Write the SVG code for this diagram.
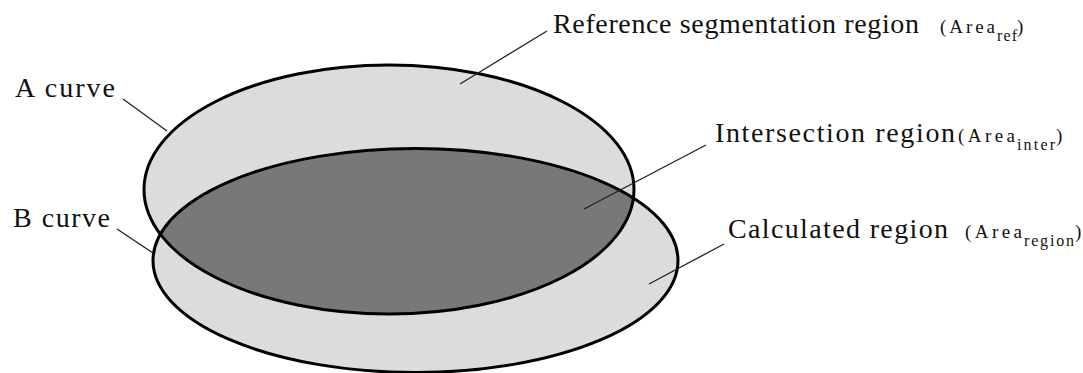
<svg xmlns="http://www.w3.org/2000/svg" width="1083" height="373" viewBox="0 0 1083 373">
<style>
.lbl{font-family:"Liberation Serif","Times New Roman",serif;font-size:28px;fill:#111}
.ar{font-family:"Liberation Serif","Times New Roman",serif;font-size:19px;fill:#111}
.sub{font-family:"Liberation Serif","Times New Roman",serif;font-size:16px;fill:#111}
.edge{fill:none;stroke:#000;stroke-width:3}
.lead{fill:none;stroke:#222;stroke-width:1.3}
</style>
<defs>
<clipPath id="clipA"><ellipse cx="389" cy="189.5" rx="245" ry="124.5"/></clipPath>
</defs>
<rect width="1083" height="373" fill="#fff"/>
<g id="regionA"><ellipse cx="389" cy="189.5" rx="245" ry="124.5" fill="#dcdcdc"/></g>
<g id="regionB"><ellipse cx="415.5" cy="260.5" rx="262.5" ry="112" fill="#dcdcdc"/></g>
<g id="intersection"><ellipse cx="415.5" cy="260.5" rx="262.5" ry="112" fill="#787878" clip-path="url(#clipA)"/></g>
<g id="curveA"><ellipse class="edge" cx="389" cy="189.5" rx="245" ry="124.5"/></g>
<g id="curveB"><ellipse class="edge" cx="415.5" cy="260.5" rx="262.5" ry="112"/></g>
<g id="connectors">
<line class="lead" x1="123" y1="99" x2="167" y2="131"/>
<line class="lead" x1="117" y1="229" x2="153" y2="253"/>
<line class="lead" x1="547" y1="31" x2="460" y2="84"/>
<line class="lead" x1="706" y1="145" x2="584" y2="209"/>
<line class="lead" x1="724" y1="244" x2="649" y2="284"/>
</g>
<g id="labelA"><text class="lbl" x="15" y="97" textLength="100">A curve</text></g>
<g id="labelB"><text class="lbl" x="13" y="227" textLength="97">B curve</text></g>
<g id="labelRef">
<text class="lbl" x="553" y="33" textLength="366">Reference segmentation region</text>
<text class="ar" x="940" y="33" textLength="55">(Area</text>
<text class="sub" x="997" y="41" textLength="20">ref</text>
<text class="ar" x="1017" y="33">)</text>
</g>
<g id="labelInter">
<text class="lbl" x="715" y="142" textLength="240">Intersection region</text>
<text class="ar" x="958" y="142" textLength="57">(Area</text>
<text class="sub" x="1017" y="150" textLength="38">inter</text>
<text class="ar" x="1056" y="142">)</text>
</g>
<g id="labelCalc">
<text class="lbl" x="728" y="238" textLength="220">Calculated region</text>
<text class="ar" x="965" y="238" textLength="57">(Area</text>
<text class="sub" x="1024" y="246" textLength="50">region</text>
<text class="ar" x="1075" y="238">)</text>
</g>
</svg>
